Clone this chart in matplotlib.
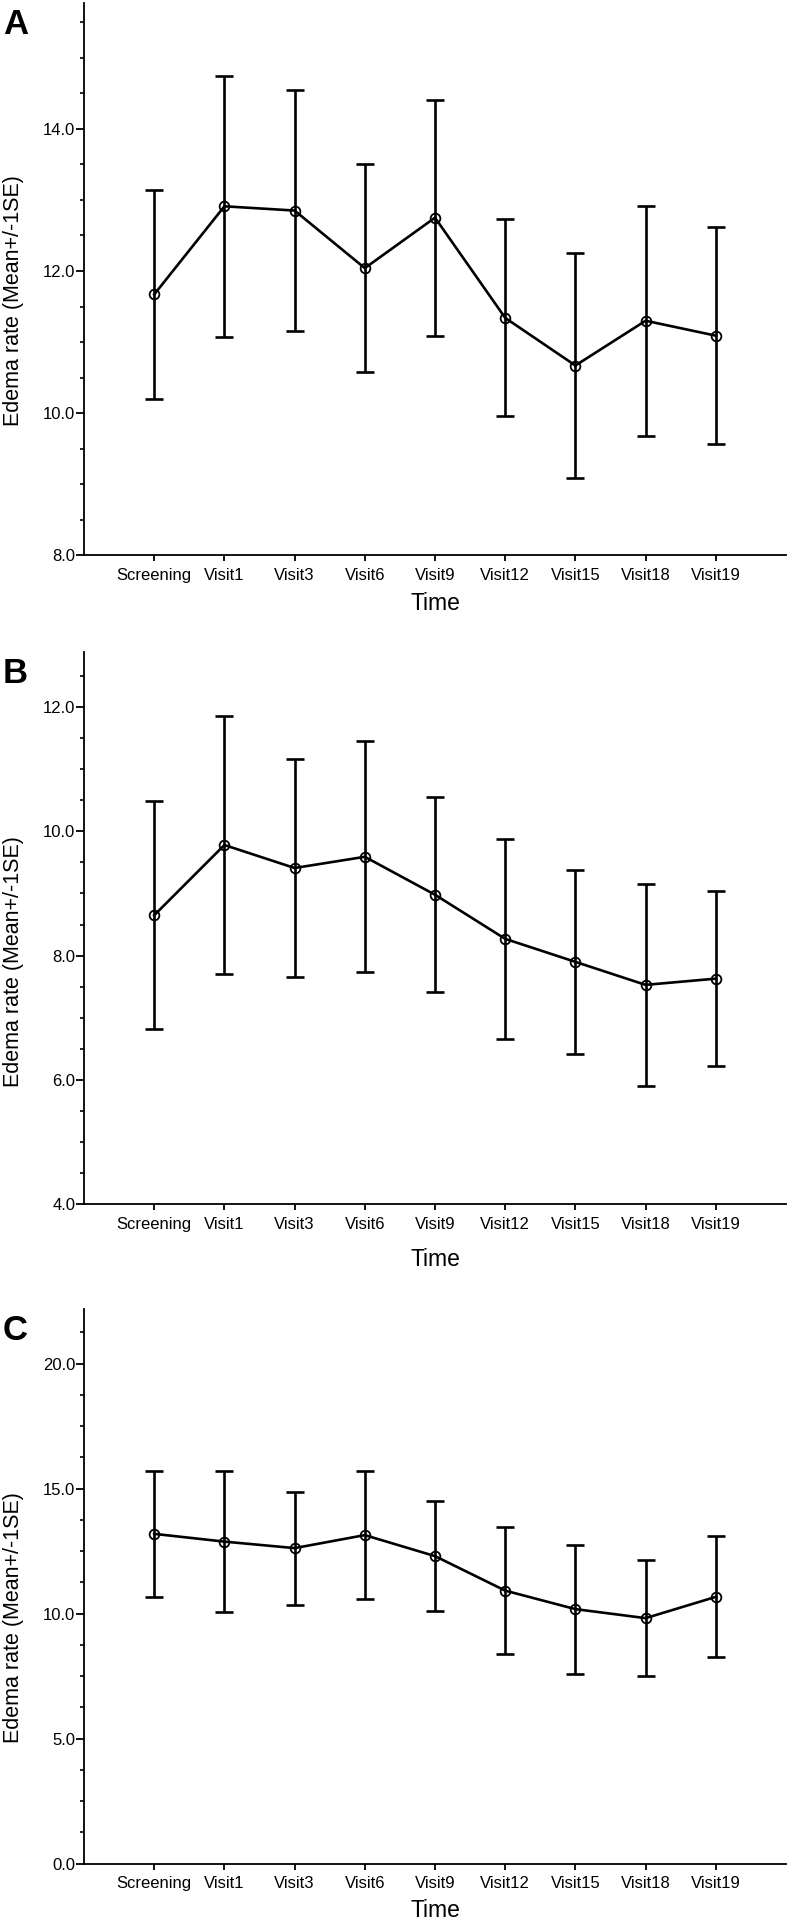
import matplotlib
matplotlib.use("Agg")
import matplotlib.pyplot as plt
from matplotlib.ticker import MultipleLocator, FormatStrFormatter

plt.rcParams['font.family'] = ['Liberation Sans', 'DejaVu Sans']

categories = ["Screening", "Visit1", "Visit3", "Visit6", "Visit9",
              "Visit12", "Visit15", "Visit18", "Visit19"]

mean_A = [11.67, 12.91, 12.85, 12.04, 12.75, 11.34, 10.67, 11.30, 11.09]
se_A = [1.475, 1.835, 1.69, 1.465, 1.66, 1.385, 1.58, 1.615, 1.525]

mean_B = [8.65, 9.78, 9.41, 9.59, 8.98, 8.27, 7.90, 7.53, 7.63]
se_B = [1.835, 2.08, 1.76, 1.86, 1.57, 1.61, 1.48, 1.63, 1.405]

mean_C = [13.19, 12.88, 12.62, 13.14, 12.30, 10.92, 10.18, 9.82, 10.67]
se_C = [2.525, 2.81, 2.255, 2.565, 2.195, 2.55, 2.58, 2.325, 2.415]

panel_letters = ["A", "B", "C"]
ylabel_text = "Edema rate (Mean+/-1SE)"
xlabel_text = "Time"

FW, FH = 792, 1925
fig = plt.figure(figsize=(FW / 100, FH / 100), dpi=100)

# (top px, bottom px, ymin, ymax, major, minor, ylabel center y frac, xlabel top frac)
layouts = [
    (3.0, 555.3, 8.0, 15.77, 2.0, 0.5, 0.462, -0.066),
    (652.3, 1204.3, 4.0, 12.88, 2.0, 0.5, 0.44, -0.079),
    (1308.8, 1863.7, 0.0, 22.19, 5.0, 1.25, 0.443, -0.064),
]
datasets = [(mean_A, se_A), (mean_B, se_B), (mean_C, se_C)]

left_px, right_px = 84, 786
x = list(range(len(categories)))

for (top, bot, y0, y1, maj, mnr, ylc, xlc), (m, s), letter in zip(layouts, datasets, panel_letters):
    ax = fig.add_axes([left_px / FW, 1 - bot / FH, (right_px - left_px) / FW, (bot - top) / FH])
    ax.errorbar(x, m, yerr=s, fmt='none', ecolor='black', elinewidth=1.9,
                capsize=6.5, capthick=1.9, zorder=2)
    ax.plot(x, m, '-o', color='black', lw=1.9, ms=7, mfc='none', mec='black',
            mew=1.3, zorder=3)
    ax.set_xlim(-1, 9)
    ax.set_ylim(y0, y1)
    ax.set_xticks(x)
    ax.set_xticklabels(categories, fontsize=12)
    ax.yaxis.set_major_locator(MultipleLocator(maj))
    ax.yaxis.set_minor_locator(MultipleLocator(mnr))
    ax.yaxis.set_major_formatter(FormatStrFormatter('%.1f'))
    for sp in ['top', 'right']:
        ax.spines[sp].set_visible(False)
    for sp in ['left', 'bottom']:
        ax.spines[sp].set_linewidth(1.3)
    ax.tick_params(axis='y', which='major', direction='out', length=5.8, width=1.3,
                   pad=0.5, labelsize=12)
    ax.tick_params(axis='y', which='minor', direction='out', length=2.6, width=1.2)
    ax.tick_params(axis='x', which='major', direction='out', length=4.5, width=1.3,
                   pad=4.5, labelsize=12)
    ax.set_ylabel(ylabel_text, fontsize=15.5)
    ax.yaxis.set_label_coords((24.5 - left_px) / (right_px - left_px), ylc)
    ax.set_xlabel(xlabel_text, fontsize=16.5)
    ax.xaxis.set_label_coords(0.5, xlc)
    fig.text(3 / FW, 1 - (top + 5) / FH, letter, fontsize=25, fontweight='bold',
             ha='left', va='top')

fig.savefig('out.png', dpi=100)
